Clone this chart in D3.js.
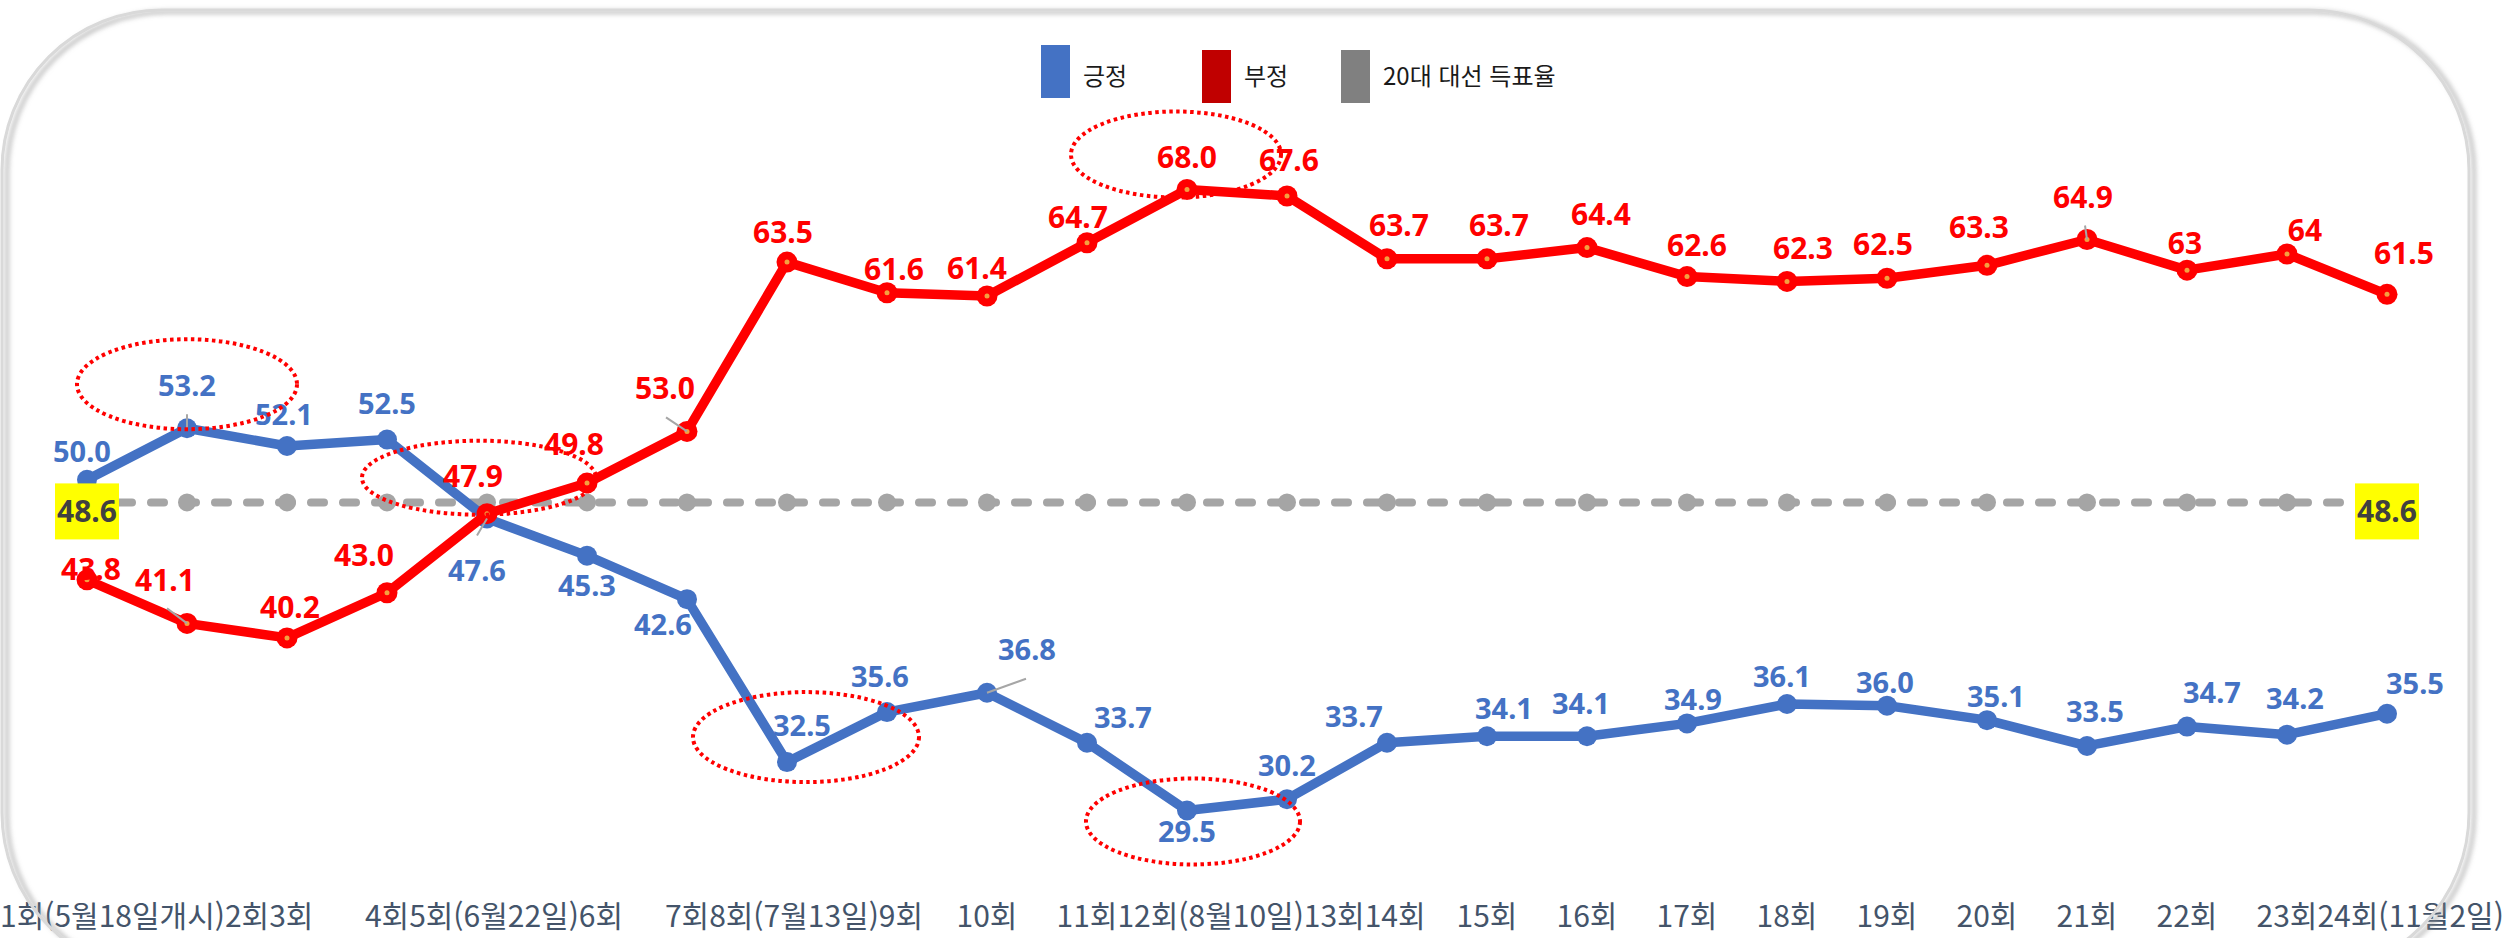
<!DOCTYPE html>
<html lang="ko">
<head>
<meta charset="UTF-8">
<title>긍정 / 부정 추이</title>
<script src="https://d3js.org/d3.v7.min.js"></script>
<style>
  body { margin: 0; background: #fff; overflow: hidden; }
  svg text { font-family: "Noto Sans", "Noto Sans CJK KR", sans-serif; }
  .kr { font-family: "Noto Sans CJK KR", sans-serif; }
</style>
</head>
<body>
<script>
const rounds = ['1회(5월18일개시)', '2회', '3회', '4회', '5회(6월22일)', '6회', '7회', '8회(7월13일)',
  '9회', '10회', '11회', '12회(8월10일)', '13회', '14회', '15회', '16회', '17회', '18회', '19회',
  '20회', '21회', '22회', '23회', '24회(11월2일)'];

const positive = [50.0, 53.2, 52.1, 52.5, 47.6, 45.3, 42.6, 32.5, 35.6, 36.8, 33.7, 29.5,
  30.2, 33.7, 34.1, 34.1, 34.9, 36.1, 36.0, 35.1, 33.5, 34.7, 34.2, 35.5];

// kept as text: two of the labels are shown without a decimal
const negativeText = ['43.8', '41.1', '40.2', '43.0', '47.9', '49.8', '53.0', '63.5', '61.6', '61.4',
  '64.7', '68.0', '67.6', '63.7', '63.7', '64.4', '62.6', '62.3', '62.5', '63.3', '64.9', '63', '64', '61.5'];
const negative = negativeText.map(Number);

const electionShare = 48.6;
const legendNames = ['긍정', '부정', '20대 대선 득표율'];

// where each value label sits, [dx, dy] from its point to the label centre
const posNudge = [[-5, -28], [0, -42], [-3, -31], [0, -36], [-10, 52], [0, 30], [-24, 26], [15, -36],
  [-7, -35], [40, -43], [36, -25], [0, 22], [0, -33], [-33, -26], [17, -27], [-6, -32], [6, -23],
  [-5, -27], [-2, -23], [9, -23], [8, -34], [25, -34], [8, -36], [28, -30]];
const negNudge = [[4, -10], [-22, -42], [3, -30], [-23, -37], [-14, -37], [-13, -38], [-22, -42],
  [-4, -29], [7, -23], [-10, -27], [-9, -25], [0, -32], [2, -35], [12, -33], [12, -33], [14, -33],
  [10, -31], [16, -32], [-4, -33], [-8, -37], [-4, -42], [-2, -26], [18, -23], [17, -40]];

// red dotted rings round some points
const callouts = [
  { s: 'pos', i: 1, dx: 0, dy: -44, rx: 110, ry: 45 },
  { s: 'neg', i: 4, dx: -8, dy: -36, rx: 117, ry: 37 },
  { s: 'pos', i: 7, dx: 19, dy: -25, rx: 113, ry: 45 },
  { s: 'pos', i: 11, dx: 6, dy: 11, rx: 107, ry: 43 },
  { s: 'neg', i: 11, dx: -11, dy: -35, rx: 105, ry: 43 }
];

// little grey leader lines
const leaders = [
  { s: 'neg', i: 1, x1: -20, y1: -15 },
  { s: 'neg', i: 6, x1: -21, y1: -14 },
  { s: 'pos', i: 4, x1: -10, y1: 17 },
  { s: 'pos', i: 9, x1: 39, y1: -14 },
  { s: 'pos', i: 1, x1: 0, y1: -14 },
  { s: 'neg', i: 20, x1: -2, y1: -14 }
];

const W = 2509, H = 938;
const BLUE = '#4472C4', RED = '#FF0000', GREY = '#A5A5A5';

const svg = d3.select('body').append('svg')
  .attr('width', W).attr('height', H);

const defs = svg.append('defs');
const f = defs.append('filter').attr('id', 'shadow')
  .attr('x', '-5%').attr('y', '-5%').attr('width', '110%').attr('height', '110%');
f.append('feDropShadow').attr('dx', 5).attr('dy', 2).attr('stdDeviation', 2.5)
  .attr('flood-color', '#888').attr('flood-opacity', 0.7);

// card background
svg.append('rect')
  .attr('x', 2).attr('y', 10).attr('width', 2467).attr('height', 963)
  .attr('rx', 160).attr('ry', 160).attr('fill', '#fff');

const x = d3.scalePoint().domain(rounds).range([87, 2387]);
const y = d3.scaleLinear().domain([20, 75]).range([963.7, 76.6]);

const seriesVals = { pos: positive, neg: negative };
const px = i => x(rounds[i]);
const py = (s, i) => y(seriesVals[s][i]);

// 20대 대선 득표율 reference line
const g0 = svg.append('g');
g0.append('line')
  .attr('x1', px(0)).attr('x2', px(rounds.length - 1))
  .attr('y1', y(electionShare)).attr('y2', y(electionShare))
  .attr('stroke', GREY).attr('stroke-width', 8)
  .attr('stroke-linecap', 'round').attr('stroke-dasharray', '13 19');
g0.selectAll('circle').data(rounds).join('circle')
  .attr('cx', d => x(d)).attr('cy', y(electionShare)).attr('r', 9).attr('fill', GREY);

const line = d3.line().x((d, i) => px(i)).y(d => y(d));

// 긍정
svg.append('path').datum(positive)
  .attr('d', line).attr('fill', 'none')
  .attr('stroke', BLUE).attr('stroke-width', 9.5).attr('stroke-linejoin', 'round');
svg.append('g').selectAll('circle').data(positive).join('circle')
  .attr('cx', (d, i) => px(i)).attr('cy', d => y(d)).attr('r', 10).attr('fill', BLUE);

// 부정
svg.append('path').datum(negative)
  .attr('d', line).attr('fill', 'none')
  .attr('stroke', RED).attr('stroke-width', 9.5).attr('stroke-linejoin', 'round');
const negDots = svg.append('g');
negDots.selectAll('circle.m').data(negative).join('circle').attr('class', 'm')
  .attr('cx', (d, i) => px(i)).attr('cy', d => y(d)).attr('r', 10.5).attr('fill', RED);
negDots.selectAll('circle.c').data(negative).join('circle').attr('class', 'c')
  .attr('cx', (d, i) => px(i)).attr('cy', d => y(d)).attr('r', 2.5).attr('fill', '#F4A040');

// leader lines
svg.append('g').selectAll('line').data(leaders).join('line')
  .attr('x1', d => px(d.i) + d.x1).attr('y1', d => py(d.s, d.i) + d.y1)
  .attr('x2', d => px(d.i)).attr('y2', d => py(d.s, d.i))
  .attr('stroke', '#A6A6A6').attr('stroke-width', 2);

// value labels
svg.append('g').selectAll('text').data(positive).join('text')
  .attr('x', (d, i) => px(i) + posNudge[i][0])
  .attr('y', (d, i) => y(d) + posNudge[i][1] + 10)
  .attr('text-anchor', 'middle').attr('font-size', 29).attr('font-weight', 700)
  .attr('fill', BLUE).text(d => d.toFixed(1));

svg.append('g').selectAll('text').data(negativeText).join('text')
  .attr('x', (d, i) => px(i) + negNudge[i][0])
  .attr('y', (d, i) => y(negative[i]) + negNudge[i][1] + 10)
  .attr('text-anchor', 'middle').attr('font-size', 30).attr('font-weight', 700)
  .attr('fill', RED).text(d => d);

// 48.6 boxes at both ends of the reference line
const ends = [0, rounds.length - 1];
const boxes = svg.append('g').selectAll('g').data(ends).join('g')
  .attr('transform', i => `translate(${px(i)},${y(electionShare) + 8})`);
boxes.append('rect').attr('x', -32).attr('y', -27).attr('width', 64).attr('height', 56)
  .attr('fill', '#FFFF00');
boxes.append('text').attr('y', 12).attr('text-anchor', 'middle')
  .attr('font-size', 30).attr('font-weight', 700).attr('fill', '#404040')
  .text(electionShare.toFixed(1));

// dotted rings
svg.append('g').selectAll('ellipse').data(callouts).join('ellipse')
  .attr('cx', d => px(d.i) + d.dx).attr('cy', d => py(d.s, d.i) + d.dy)
  .attr('rx', d => d.rx).attr('ry', d => d.ry)
  .attr('fill', 'none').attr('stroke', RED).attr('stroke-width', 4)
  .attr('stroke-dasharray', '3.5 3.5');

// legend
const legendColors = [BLUE, '#C00000', '#808080'];
const legendX = [1041, 1202, 1341];
const leg = svg.append('g').selectAll('g').data(legendNames).join('g')
  .attr('transform', (d, i) => `translate(${legendX[i]},${i === 0 ? 45 : 50})`);
leg.append('rect').attr('width', 29).attr('height', 53).attr('fill', (d, i) => legendColors[i]);
leg.append('text').attr('class', 'kr').attr('x', 42).attr('y', (d, i) => i === 0 ? 40 : 35)
  .attr('font-size', 24).attr('fill', '#1a1a1a').text(d => d);

// category labels, pushed right where they would overlap
const xl = svg.append('g').selectAll('text').data(rounds).join('text')
  .attr('class', 'kr')
  .attr('y', 927).attr('font-size', 30).attr('fill', '#44546A')
  .text(d => d);
let prevRight = -Infinity;
xl.each(function (d, i) {
  const w = this.getComputedTextLength();
  let left = x(d) - w / 2;
  if (i === 0) left = Math.max(left, 0);
  if (left < prevRight) left = prevRight;
  d3.select(this).attr('x', left);
  prevRight = left + w;
});

// card outline on top
svg.append('rect')
  .attr('x', 2).attr('y', 10).attr('width', 2467).attr('height', 963)
  .attr('rx', 160).attr('ry', 160).attr('fill', 'none')
  .attr('stroke', '#D9D9D9').attr('stroke-width', 3)
  .attr('filter', 'url(#shadow)');
</script>
</body>
</html>
